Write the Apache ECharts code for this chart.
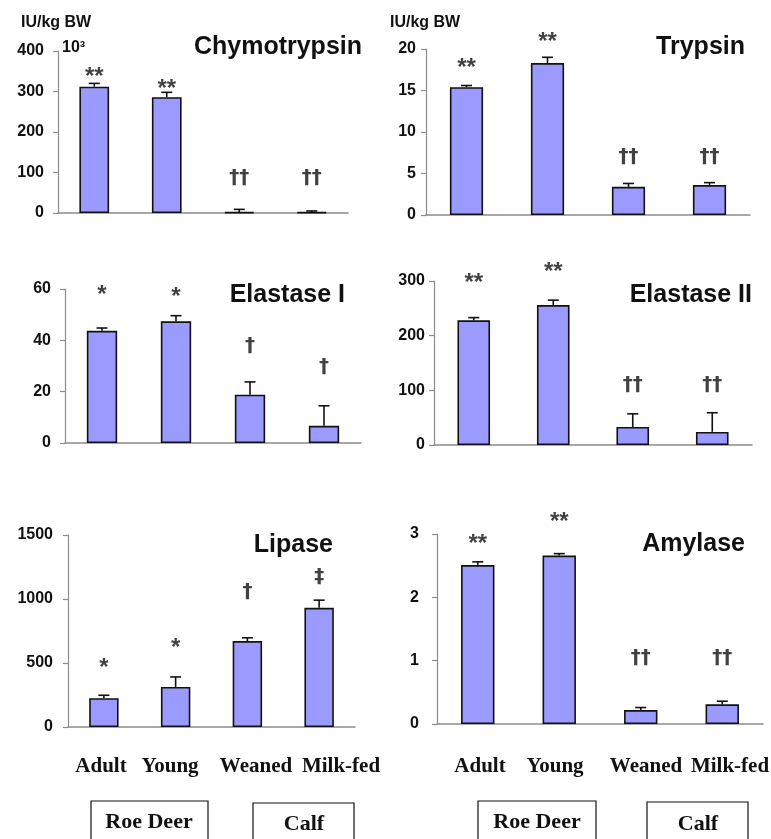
<!DOCTYPE html>
<html>
<head>
<meta charset="utf-8">
<script src="https://cdn.jsdelivr.net/npm/echarts@6/dist/echarts.min.js"></script>
<style>
html,body{margin:0;padding:0;background:#fff;}
#chart{width:771px;height:839px;}
</style>
</head>
<body>
<div id="chart"></div>
<script>
// ---- data ----
const categories = ['Adult', 'Young', 'Weaned', 'Milk-fed'];
const groups = ['Roe Deer', 'Calf'];
const unitLabel = 'IU/kg BW';
const chymoScaleLabel = '10³';

const chymoTitle = 'Chymotrypsin';
const chymoMeans = [312, 286, 2, 2];
const chymoErr = [8, 12, 7, 3];
const chymoMarks = ['**', '**', '††', '††'];
const chymoMarkY = [347, 318, 88, 88];
const chymoTicks = [0, 100, 200, 300, 400];

const trypTitle = 'Trypsin';
const trypMeans = [15.4, 18.3, 3.4, 3.6];
const trypErr = [0.2, 0.7, 0.4, 0.3];
const trypMarks = ['**', '**', '††', '††'];
const trypMarkY = [18.3, 21.4, 7.0, 7.0];
const trypTicks = [0, 5, 10, 15, 20];

const ela1Title = 'Elastase I';
const ela1Means = [43.7, 47.4, 18.8, 6.7];
const ela1Err = [1.1, 2.2, 5.0, 7.8];
const ela1Marks = ['*', '*', '†', '†'];
const ela1MarkY = [59.3, 58.6, 37.9, 29.8];
const ela1Ticks = [0, 20, 40, 60];

const ela2Title = 'Elastase II';
const ela2Means = [228, 256, 33, 24];
const ela2Err = [5, 9, 24, 35];
const ela2Marks = ['**', '**', '††', '††'];
const ela2MarkY = [305, 325, 111, 111];
const ela2Ticks = [0, 100, 200, 300];

const lipTitle = 'Lipase';
const lipMeans = [225, 313, 671, 931];
const lipErr = [23, 78, 26, 60];
const lipMarks = ['*', '*', '†', '‡'];
const lipMarkY = [498, 655, 1054, 1171];
const lipTicks = [0, 500, 1000, 1500];

const amyTitle = 'Amylase';
const amyMeans = [2.51, 2.66, 0.22, 0.31];
const amyErr = [0.05, 0.03, 0.04, 0.05];
const amyMarks = ['**', '**', '††', '††'];
const amyMarkY = [2.92, 3.27, 1.04, 1.04];
const amyTicks = [0, 1, 2, 3];

// ---- layout ----
const panels = [
  {title: chymoTitle, means: chymoMeans, err: chymoErr, marks: chymoMarks, markY: chymoMarkY, ticks: chymoTicks,
   grid: {left: 58, top: 51, width: 290, height: 162}, labelMargin: 14, titleRight: 771 - 362, titleTop: 35},
  {title: trypTitle, means: trypMeans, err: trypErr, marks: trypMarks, markY: trypMarkY, ticks: trypTicks,
   grid: {left: 426, top: 49, width: 324, height: 166}, labelMargin: 10, titleRight: 771 - 745, titleTop: 35},
  {title: ela1Title, means: ela1Means, err: ela1Err, marks: ela1Marks, markY: ela1MarkY, ticks: ela1Ticks,
   grid: {left: 65, top: 289, width: 296, height: 154}, labelMargin: 14, titleRight: 771 - 345, titleTop: 283},
  {title: ela2Title, means: ela2Means, err: ela2Err, marks: ela2Marks, markY: ela2MarkY, ticks: ela2Ticks,
   grid: {left: 434, top: 281, width: 318, height: 164}, labelMargin: 9, titleRight: 771 - 752, titleTop: 283},
  {title: lipTitle, means: lipMeans, err: lipErr, marks: lipMarks, markY: lipMarkY, ticks: lipTicks,
   grid: {left: 68, top: 535, width: 287, height: 192}, labelMargin: 15, titleRight: 771 - 333, titleTop: 533},
  {title: amyTitle, means: amyMeans, err: amyErr, marks: amyMarks, markY: amyMarkY, ticks: amyTicks,
   grid: {left: 437, top: 534, width: 326, height: 190}, labelMargin: 18, titleRight: 771 - 745, titleTop: 532}
];

const SANS = '"Liberation Sans", Arial, sans-serif';
const MARK_SANS = '"DejaVu Sans", "Liberation Sans", sans-serif';
const SERIF = '"Liberation Serif", "Times New Roman", serif';
const BAR_COLOR = '#9b9bff';
const AXIS_COLOR = '#8c8c8c';

const grids = [], xAxes = [], yAxes = [], series = [], titles = [];

panels.forEach((p, i) => {
  grids.push(Object.assign({containLabel: false}, p.grid));
  xAxes.push({
    type: 'category', gridIndex: i, data: categories, boundaryGap: true,
    axisLine: {show: true, lineStyle: {color: AXIS_COLOR, width: 1.5}},
    axisTick: {show: false}, axisLabel: {show: false}, splitLine: {show: false}
  });
  const t = p.ticks;
  yAxes.push({
    type: 'value', gridIndex: i, min: t[0], max: t[t.length - 1], interval: t[1] - t[0],
    axisLine: {show: true, lineStyle: {color: AXIS_COLOR, width: 1.2}},
    axisTick: {show: true, length: 5, lineStyle: {color: AXIS_COLOR, width: 1.2}},
    splitLine: {show: false},
    axisLabel: {margin: p.labelMargin, color: '#111', fontFamily: SANS, fontWeight: 'bold', fontSize: 16,
      formatter: v => String(v)}
  });
  titles.push({
    text: p.title, right: p.titleRight, top: p.titleTop, padding: 0,
    textStyle: {fontFamily: SANS, fontWeight: 'bold', fontSize: 25, color: '#111'}
  });
  series.push({
    type: 'bar', xAxisIndex: i, yAxisIndex: i, data: p.means, barWidth: '41%',
    itemStyle: {color: BAR_COLOR, borderColor: '#111', borderWidth: 1.6}, silent: true
  });
  series.push({
    type: 'custom', xAxisIndex: i, yAxisIndex: i, silent: true, z: 3,
    data: p.means.map((m, k) => [k, m, m + p.err[k]]),
    renderItem: function (params, api) {
      const base = api.coord([api.value(0), api.value(1)]);
      const top = api.coord([api.value(0), api.value(2)]);
      const hw = 5.5;
      const style = {stroke: '#111', lineWidth: 1.6};
      return {
        type: 'group',
        children: [
          {type: 'line', shape: {x1: base[0], y1: base[1], x2: top[0], y2: top[1]}, style: style},
          {type: 'line', shape: {x1: top[0] - hw, y1: top[1], x2: top[0] + hw, y2: top[1]}, style: style}
        ]
      };
    }
  });
  series.push({
    type: 'scatter', xAxisIndex: i, yAxisIndex: i, silent: true, clip: false, symbolSize: 1,
    itemStyle: {color: 'rgba(0,0,0,0)'},
    data: p.markY.map((y, k) => {
      const isStar = p.marks[k].indexOf('*') >= 0;
      return {
        value: [k, y],
        label: isStar
          ? {formatter: p.marks[k], fontFamily: SANS, fontSize: 24, offset: [0, 5]}
          : {formatter: p.marks[k], fontFamily: MARK_SANS, fontSize: 20, offset: [0, 0]}
      };
    }),
    label: {show: true, position: 'inside', color: '#111', fontWeight: 'bold'}
  });
});

// ---- free text and boxes ----
const graphics = [];
function txt(text, x, y, font, size, align) {
  graphics.push({type: 'text', x: x, y: y, silent: true,
    style: {text: text, font: 'bold ' + size + 'px ' + font, fill: '#111', align: align || 'left', verticalAlign: 'middle'}});
}
txt(unitLabel, 21, 23, SANS, 16);
txt(unitLabel, 390, 23, SANS, 16);
txt(chymoScaleLabel, 62, 48, SANS, 16);

const leftCatX = [101, 170, 256, 341];
const rightCatX = [480, 555, 646, 730];
categories.forEach((c, k) => {
  txt(c, leftCatX[k], 767, SERIF, 21, 'center');
  txt(c, rightCatX[k], 767, SERIF, 21, 'center');
});

function box(x1, x2, y1, label, cx, cy) {
  graphics.push({type: 'rect', silent: true, shape: {x: x1, y: y1, width: x2 - x1, height: 60},
    style: {fill: 'none', stroke: '#111', lineWidth: 1.2}});
  txt(label, cx, cy, SERIF, 22, 'center');
}
box(91, 208, 801, groups[0], 149, 822);
box(253, 354, 803, groups[1], 304, 824);
box(478, 596, 801, groups[0], 537, 822);
box(647, 748, 802, groups[1], 698, 824);

const chart = echarts.init(document.getElementById('chart'), null, {renderer: 'canvas'});
chart.setOption({
  animation: false,
  backgroundColor: '#fff',
  title: titles,
  grid: grids,
  xAxis: xAxes,
  yAxis: yAxes,
  series: series,
  graphic: graphics
});
</script>
</body>
</html>
